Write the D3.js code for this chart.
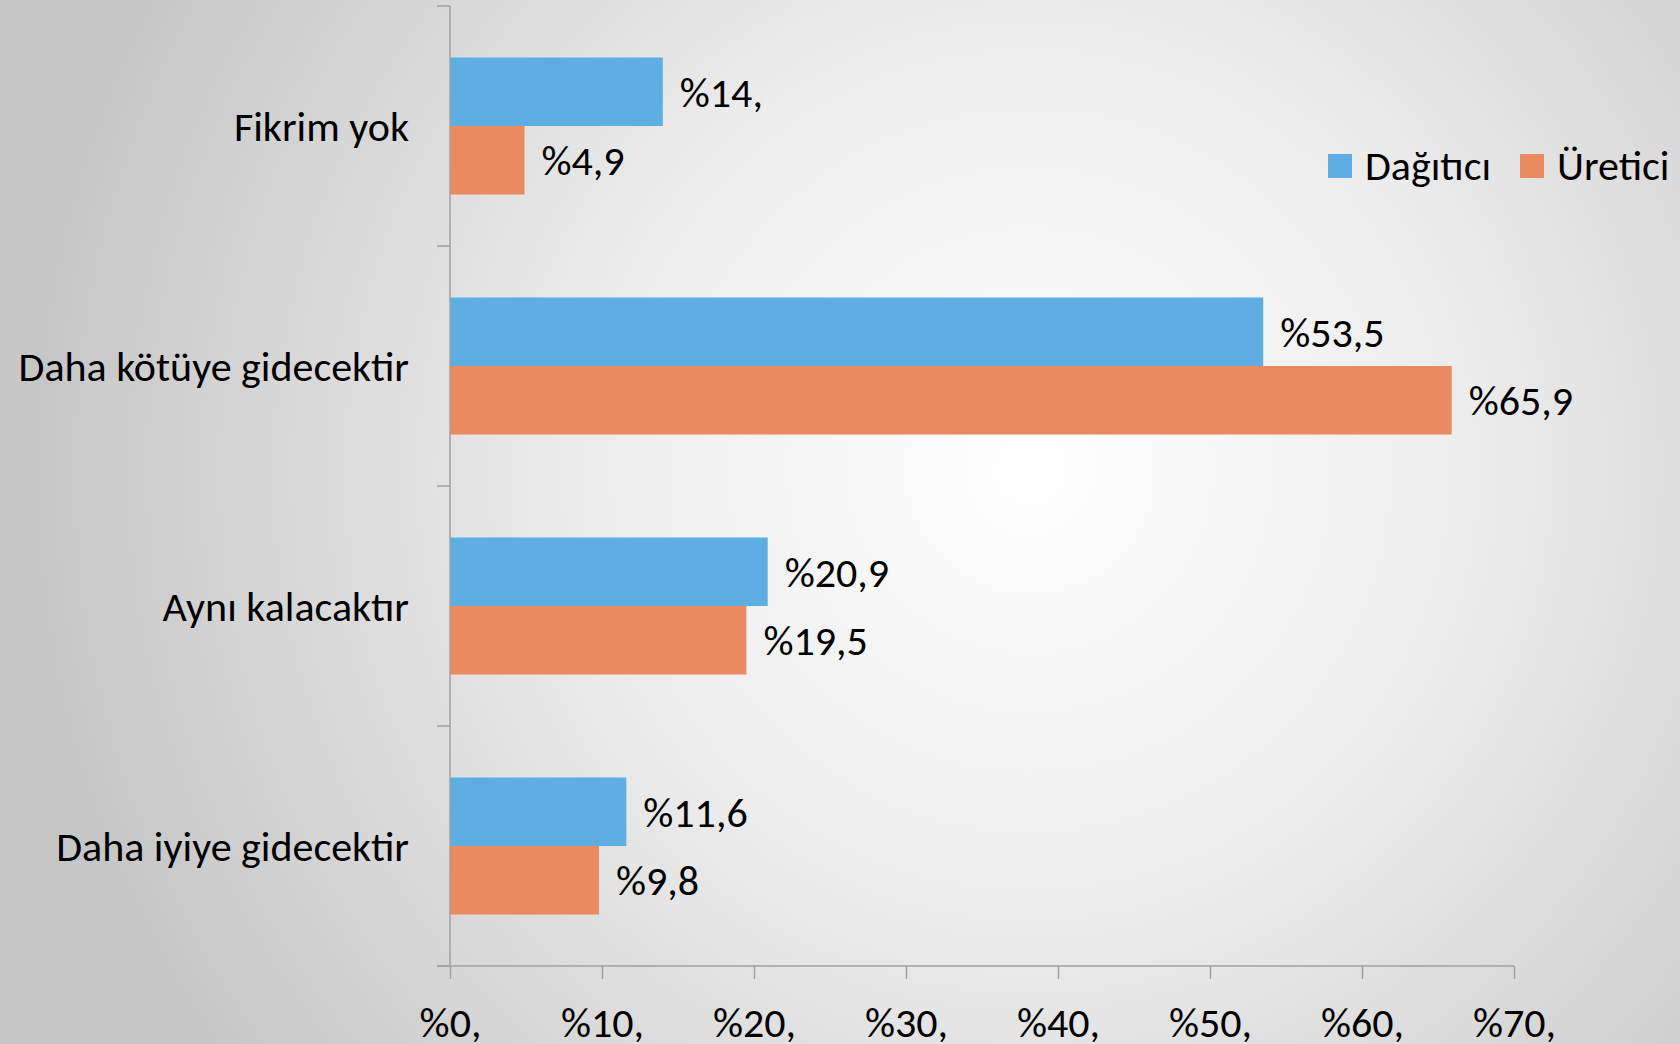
<!DOCTYPE html>
<html>
<head>
<meta charset="utf-8">
<script src="https://cdn.jsdelivr.net/npm/d3@7"></script>
<style>
  html, body { margin: 0; padding: 0; overflow: hidden; }
  svg { display: block; font-family: Calibri, Carlito, Lato, sans-serif; }
</style>
</head>
<body>
<svg width="1680" height="1044"></svg>
<script>
// categories, top to bottom as in the picture
var categories = ["Fikrim yok", "Daha kötüye gidecektir", "Aynı kalacaktır", "Daha iyiye gidecektir"];
var seriesNames = ["Dağıtıcı", "Üretici"];
var dagitici = [14, 53.5, 20.9, 11.6];
var uretici = [4.9, 65.9, 19.5, 9.8];
var dagiticiLabels = ["%14,", "%53,5", "%20,9", "%11,6"];
var ureticiLabels = ["%4,9", "%65,9", "%19,5", "%9,8"];
var xTicks = [0, 10, 20, 30, 40, 50, 60, 70];
var xTickLabels = ["%0,", "%10,", "%20,", "%30,", "%40,", "%50,", "%60,", "%70,"];

var colors = {"Dağıtıcı": "#5eaee3", "Üretici": "#e98a60"};
var axisColor = "#a0a0a0";
var fontSize = 42;

var svg = d3.select("svg"), width = +svg.attr("width"), height = +svg.attr("height");

// background radial gradient
var defs = svg.append("defs");
var grad = defs.append("radialGradient")
  .attr("id", "bg")
  .attr("gradientUnits", "userSpaceOnUse")
  .attr("cx", 1030).attr("cy", 470).attr("r", 1000);
grad.append("stop").attr("offset", "0").attr("stop-color", "#ffffff");
grad.append("stop").attr("offset", "0.45").attr("stop-color", "#ececec");
grad.append("stop").attr("offset", "1").attr("stop-color", "#c6c6c6");
svg.append("rect").attr("width", width).attr("height", height).attr("fill", "url(#bg)");

var rows = categories.map(function(c, i) {
  return {cat: c, values: [
    {name: seriesNames[0], v: dagitici[i], label: dagiticiLabels[i]},
    {name: seriesNames[1], v: uretici[i], label: ureticiLabels[i]}
  ]};
});

var x = d3.scaleLinear().domain([0, 70]).range([450, 1514]);
var y = d3.scaleBand().domain(categories).range([6, 966]).paddingInner(0.429).paddingOuter(0.2145);
var ySub = d3.scaleBand().domain(seriesNames).range([0, y.bandwidth()]);

// bars
var group = svg.append("g").selectAll("g")
  .data(rows)
  .enter().append("g")
  .attr("transform", function(d) { return "translate(0," + y(d.cat) + ")"; });

group.selectAll("rect")
  .data(function(d) { return d.values; })
  .enter().append("rect")
  .attr("x", x(0))
  .attr("y", function(d) { return ySub(d.name); })
  .attr("width", function(d) { return x(d.v) - x(0); })
  .attr("height", ySub.bandwidth())
  .attr("fill", function(d) { return colors[d.name]; });

group.selectAll("text")
  .data(function(d) { return d.values; })
  .enter().append("text")
  .attr("x", function(d) { return x(d.v) + 17; })
  .attr("y", function(d) { return ySub(d.name) + ySub.bandwidth() / 2; })
  .attr("dy", "0.36em")
  .attr("font-size", fontSize)
  .attr("fill", "#000")
  .text(function(d) { return d.label; });

// y axis: line plus ticks at category boundaries
var yAxisG = svg.append("g");
yAxisG.append("line")
  .attr("x1", x(0)).attr("x2", x(0))
  .attr("y1", y.range()[0]).attr("y2", y.range()[1])
  .attr("stroke", axisColor).attr("stroke-width", 1.5);
var bounds = categories.map(function(c) { return y(c) - y.step() * y.paddingInner() / 2; });
bounds.push(y.range()[1]);
yAxisG.selectAll(".tick")
  .data(bounds)
  .enter().append("line")
  .attr("x1", x(0) - 13).attr("x2", x(0))
  .attr("y1", function(d) { return d; }).attr("y2", function(d) { return d; })
  .attr("stroke", axisColor).attr("stroke-width", 1.5);

yAxisG.selectAll(".cat")
  .data(categories)
  .enter().append("text")
  .attr("x", 409)
  .attr("y", function(d) { return y(d) + y.bandwidth() / 2; })
  .attr("dy", "0.36em")
  .attr("text-anchor", "end")
  .attr("font-size", fontSize)
  .attr("fill", "#000")
  .text(function(d) { return d; });

// x axis
var xAxis = d3.axisBottom(x)
  .tickValues(xTicks)
  .tickSize(13)
  .tickPadding(28)
  .tickFormat(function(d, i) { return xTickLabels[i]; });

var xAxisG = svg.append("g")
  .attr("transform", "translate(0,966)")
  .call(xAxis);
xAxisG.select(".domain")
  .attr("d", "M437,0H" + x(70))
  .attr("stroke", axisColor).attr("stroke-width", 1.5);
xAxisG.selectAll(".tick line").attr("stroke", axisColor).attr("stroke-width", 1.5);
xAxisG.selectAll(".tick text")
  .attr("font-size", fontSize)
  .attr("font-family", "Calibri, Carlito, Lato, sans-serif")
  .attr("fill", "#000");

// legend
var legend = svg.append("g");
var legendX = [1328, 1520];
seriesNames.forEach(function(s, i) {
  legend.append("rect")
    .attr("x", legendX[i]).attr("y", 154)
    .attr("width", 24).attr("height", 24)
    .attr("fill", colors[s]);
  legend.append("text")
    .attr("x", legendX[i] + 37).attr("y", 180)
    .attr("font-size", fontSize)
    .attr("fill", "#000")
    .text(s);
});
</script>
</body>
</html>
